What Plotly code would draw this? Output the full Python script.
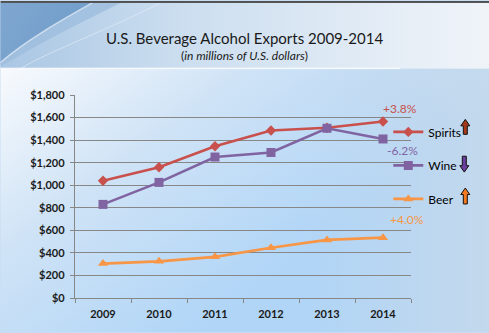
import base64
import plotly.graph_objects as go

years = ["2009", "2010", "2011", "2012", "2013", "2014"]
spirits = [1040, 1160, 1345, 1485, 1510, 1565]
wine = [830, 1025, 1250, 1290, 1505, 1410]
beer = [305, 325, 365, 445, 515, 535]
series_names = ["Spirits", "Wine", "Beer"]
change_labels = ["+3.8%", "-6.2%", "+4.0%"]
y_ticks = [0, 200, 400, 600, 800, 1000, 1200, 1400, 1600, 1800]
y_ticklabels = ["$" + format(v, ",") for v in y_ticks]

W, H = 489, 333
L, R, T, B = 74.7, 78.3, 94.5, 34.5
PW, PH = W - L - R, H - T - B


def px(x):
    return (x - L) / PW


def py(y):
    return (H - B - y) / PH


colors = ["#C8504D", "#8064A2", "#F79646"]
symbols = ["diamond", "square", "triangle-up"]
msizes = [8, 9, 9]
values = [spirits, wine, beer]

svg = f'''<svg xmlns="http://www.w3.org/2000/svg" width="{W}" height="{H}" viewBox="0 0 {W} {H}">
<defs>
<linearGradient id="bg" x1="0" y1="68" x2="200" y2="333" gradientUnits="userSpaceOnUse">
<stop offset="0" stop-color="#F8FAFD"/>
<stop offset="0.45" stop-color="#CFE3F6"/>
<stop offset="1" stop-color="#B0D5F7"/>
</linearGradient>
<linearGradient id="rt" x1="300" y1="0" x2="489" y2="0" gradientUnits="userSpaceOnUse">
<stop offset="0" stop-color="#C9D8E6" stop-opacity="0"/>
<stop offset="1" stop-color="#CBDAE8" stop-opacity="0.7"/>
</linearGradient>
<linearGradient id="ban" x1="0" y1="0" x2="489" y2="0" gradientUnits="userSpaceOnUse">
<stop offset="0" stop-color="#A9C6E3"/>
<stop offset="0.35" stop-color="#CADDEF"/>
<stop offset="1" stop-color="#F0F4F9"/>
</linearGradient>
<linearGradient id="dark" x1="0" y1="0" x2="90" y2="60" gradientUnits="userSpaceOnUse">
<stop offset="0" stop-color="#7FA6CF"/>
<stop offset="1" stop-color="#6E9CCA"/>
</linearGradient>
</defs>
<rect x="0" y="0" width="{W}" height="{H}" fill="url(#bg)"/>
<rect x="0" y="0" width="{W}" height="{H}" fill="url(#rt)"/>
<rect x="0" y="2" width="{W}" height="66" fill="url(#ban)"/>
<path d="M0,2 L120,2 C80,22 40,42 0,66 Z" fill="#9DBDDD" opacity="0.8"/>
<path d="M0,2 L92,2 C60,20 25,40 0,62 Z" fill="url(#dark)"/>
<path d="M92,2 C60,20 25,40 0,62" stroke="#DDE9F5" stroke-width="1.5" fill="none" opacity="0.8"/>
<path d="M160,2 C110,28 50,50 20,68" stroke="#E6EFF8" stroke-width="1" fill="none" opacity="0.6"/>
<rect x="0" y="67" width="400" height="1.5" fill="#FFFFFF" opacity="0.8"/>
<rect x="0" y="0" width="{W}" height="2" fill="#505050"/>
</svg>'''
src = "data:image/svg+xml;base64," + base64.b64encode(svg.encode()).decode()

fig = go.Figure()
for name, vals, c, s, ms in zip(series_names, values, colors, symbols, msizes):
    fig.add_trace(go.Scatter(
        x=years, y=vals, name=name, mode="lines+markers",
        line=dict(color=c, width=2.6),
        marker=dict(symbol=s, size=ms, color=c),
        legendgroup=name,
    ))

# change labels near last point
last_idx = len(years) - 1
shifts = [(17, 13), (19, -12), (24, 18)]
for lab, vals, c, (dx, dy) in zip(change_labels, values, colors, shifts):
    fig.add_annotation(x=last_idx, y=vals[-1], xref="x", yref="y", text=lab,
                       showarrow=False, xshift=dx, yshift=dy,
                       font=dict(family="Lato", size=12, color=c))

fig.add_annotation(x=px(244), y=py(26), xref="paper", yref="paper",
                   text="U.S. Beverage Alcohol Exports 2009-2014", showarrow=False,
                   font=dict(family="Lato", size=15, color="#1A1A1A"))
fig.add_annotation(x=px(244), y=py(45), xref="paper", yref="paper",
                   text="(<i>in millions of U.S. dollars</i>)", showarrow=False,
                   font=dict(family="Lato", size=12, color="#1A1A1A"))

# trend arrows next to legend
arrows = [(465, 119, 134, "up", "#A3391A"), (464, 156, 172, "down", "#6B3FA0"),
          (465, 188, 204, "up", "#F47A20")]
for cx, ty, by, d, c in arrows:
    hw, sw, hh = 4.5, 2.0, 6.5
    if d == "up":
        pts = [(cx, ty), (cx + hw, ty + hh), (cx + sw, ty + hh), (cx + sw, by),
               (cx - sw, by), (cx - sw, ty + hh), (cx - hw, ty + hh)]
    else:
        pts = [(cx, by), (cx + hw, by - hh), (cx + sw, by - hh), (cx + sw, ty),
               (cx - sw, ty), (cx - sw, by - hh), (cx - hw, by - hh)]
    path = "M " + " L ".join(f"{px(a):.5f},{py(b):.5f}" for a, b in pts) + " Z"
    fig.add_shape(type="path", path=path, xref="paper", yref="paper",
                  fillcolor=c, line=dict(color="#111111", width=1))

fig.add_layout_image(dict(source=src, xref="paper", yref="paper",
                          x=px(0), y=py(0), sizex=W / PW, sizey=H / PH,
                          sizing="stretch", xanchor="left", yanchor="top",
                          layer="below"))

fig.update_layout(
    width=W, height=H,
    margin=dict(l=L, r=R, t=T, b=B, pad=0),
    paper_bgcolor="#C8DDF2", plot_bgcolor="rgba(0,0,0,0)",
    showlegend=True,
    legend=dict(x=px(388), y=py(117), xanchor="left", yanchor="top",
                bgcolor="rgba(0,0,0,0)", tracegroupgap=14.5,
                font=dict(family="Lato", size=12, color="#000000")),
    xaxis=dict(type="category", tickson="boundaries", ticks="outside", ticklen=4,
               tickcolor="#878787", showgrid=False, showline=True,
               linecolor="#878787", linewidth=1.3, ticklabelstandoff=6,
               tickfont=dict(family="Lato", size=11, color="#1A1A1A", weight="bold"),
               range=[-0.5, 5.5]),
    yaxis=dict(range=[0, 1800], tickvals=y_ticks, ticktext=y_ticklabels,
               ticks="outside", ticklen=4, tickcolor="#878787", ticklabelstandoff=3,
               showgrid=True, gridcolor="#878787", gridwidth=1.3,
               showline=True, linecolor="#878787", linewidth=1.3, zeroline=False,
               tickfont=dict(family="Lato", size=11, color="#1A1A1A", weight="bold")),
    font=dict(family="Lato"),
)

fig.write_html("out.html")
